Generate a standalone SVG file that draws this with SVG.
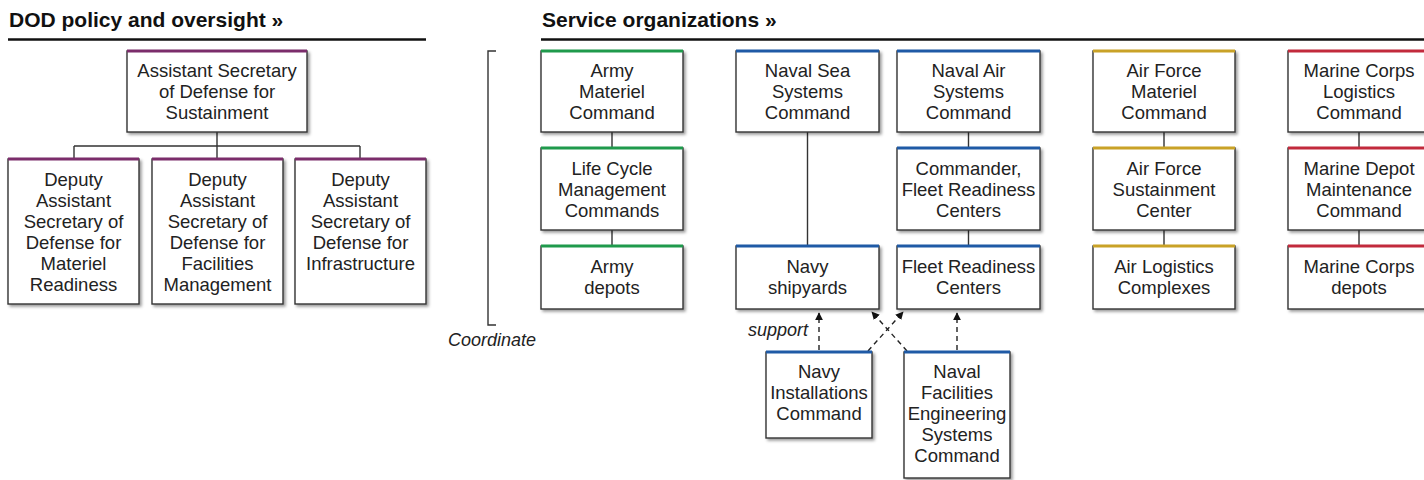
<svg xmlns="http://www.w3.org/2000/svg" width="1424" height="480" viewBox="0 0 1424 480">
  <style>
    .hdr { font-family: "Liberation Sans", Arial, sans-serif; font-weight: bold; font-size: 21px; fill: #111; }
    .rule { stroke: #111; stroke-width: 2.5; fill: none; }
    .box { fill: #fff; stroke: #333; stroke-width: 1.4; filter: url(#shadow); }
    .lbl { font-family: "Liberation Sans", Arial, sans-serif; font-size: 18.5px; fill: #222; text-anchor: middle; }
    .note { font-family: "Liberation Sans", Arial, sans-serif; font-size: 18px; font-style: italic; fill: #222; }
    .link { stroke: #333; stroke-width: 1.4; fill: none; }
    .dash { stroke: #222; stroke-width: 1.4; fill: none; stroke-dasharray: 5 4; marker-end: url(#tip); }
    .purple { stroke: #7b2d6b; stroke-width: 3; }
    .green { stroke: #1f9a4c; stroke-width: 3; }
    .blue { stroke: #1f5aa6; stroke-width: 3; }
    .gold { stroke: #c9a227; stroke-width: 3; }
    .red { stroke: #c22a3c; stroke-width: 3; }
  </style>
  <defs>
    <filter id="shadow" x="-10%" y="-10%" width="130%" height="130%">
      <feDropShadow dx="2" dy="2" stdDeviation="1.5" flood-color="#000" flood-opacity="0.4"/>
    </filter>
    <marker id="tip" viewBox="0 0 10 10" refX="9" refY="5" markerWidth="8" markerHeight="8" markerUnits="userSpaceOnUse" orient="auto">
      <path d="M0 0 L10 5 L0 10 Z" fill="#111"/>
    </marker>
  </defs>

  <rect width="1424" height="480" fill="#fff"/>

  <!-- section headings -->
  <g id="headings">
    <text class="hdr" x="9" y="27">DOD policy and oversight »</text>
    <line class="rule" x1="8" y1="39.5" x2="426" y2="39.5"/>
    <text class="hdr" x="542" y="27">Service organizations »</text>
    <line class="rule" x1="541" y1="39.5" x2="1424" y2="39.5"/>
  </g>

  <!-- connectors -->
  <g id="connectors">
    <path class="link" d="M217 132 V146 M74 146 H360 M74 146 V159 M217 146 V159 M360 146 V159"/>
    <path class="link" d="M612 132 V148 M612 230 V246"/>
    <path class="link" d="M807.5 132 V246"/>
    <path class="link" d="M968.5 132 V148 M968.5 230 V246"/>
    <path class="link" d="M1164 132 V148 M1164 230 V246"/>
    <path class="link" d="M1359 132 V148 M1359 230 V246"/>
    <path class="link" d="M496 51 H488 V325 H496"/>
    <path class="dash" d="M819 350 V313"/>
    <path class="dash" d="M868 351 L903 312"/>
    <path class="dash" d="M907 351 L872 312"/>
    <path class="dash" d="M957 350 V313"/>
  </g>

  <g id="coordinate-label">
    <text class="note" x="448" y="346">Coordinate</text>
  </g>
  <g id="support-label">
    <text class="note" x="748" y="336">support</text>
  </g>

  <!-- DOD policy and oversight -->
  <g id="asd-sustainment">
    <rect class="box" x="127" y="51" width="180" height="81"/>
    <line class="purple" x1="127" y1="51" x2="307" y2="51"/>
    <text class="lbl" x="217" y="77">Assistant Secretary</text>
    <text class="lbl" x="217" y="98">of Defense for</text>
    <text class="lbl" x="217" y="119">Sustainment</text>
  </g>
  <g id="dasd-materiel-readiness">
    <rect class="box" x="8" y="159" width="131" height="145"/>
    <line class="purple" x1="8" y1="159" x2="139" y2="159"/>
    <text class="lbl" x="73.5" y="186">Deputy</text>
    <text class="lbl" x="73.5" y="207">Assistant</text>
    <text class="lbl" x="73.5" y="228">Secretary of</text>
    <text class="lbl" x="73.5" y="249">Defense for</text>
    <text class="lbl" x="73.5" y="270">Materiel</text>
    <text class="lbl" x="73.5" y="291">Readiness</text>
  </g>
  <g id="dasd-facilities-management">
    <rect class="box" x="152" y="159" width="131" height="145"/>
    <line class="purple" x1="152" y1="159" x2="283" y2="159"/>
    <text class="lbl" x="217.5" y="186">Deputy</text>
    <text class="lbl" x="217.5" y="207">Assistant</text>
    <text class="lbl" x="217.5" y="228">Secretary of</text>
    <text class="lbl" x="217.5" y="249">Defense for</text>
    <text class="lbl" x="217.5" y="270">Facilities</text>
    <text class="lbl" x="217.5" y="291">Management</text>
  </g>
  <g id="dasd-infrastructure">
    <rect class="box" x="295" y="159" width="131" height="145"/>
    <line class="purple" x1="295" y1="159" x2="426" y2="159"/>
    <text class="lbl" x="360.5" y="186">Deputy</text>
    <text class="lbl" x="360.5" y="207">Assistant</text>
    <text class="lbl" x="360.5" y="228">Secretary of</text>
    <text class="lbl" x="360.5" y="249">Defense for</text>
    <text class="lbl" x="360.5" y="270">Infrastructure</text>
  </g>

  <!-- Army -->
  <g id="army-materiel-command">
    <rect class="box" x="541" y="51" width="142" height="81"/>
    <line class="green" x1="541" y1="51" x2="683" y2="51"/>
    <text class="lbl" x="612" y="77">Army</text>
    <text class="lbl" x="612" y="98">Materiel</text>
    <text class="lbl" x="612" y="119">Command</text>
  </g>
  <g id="life-cycle-management-commands">
    <rect class="box" x="541" y="148" width="142" height="82"/>
    <line class="green" x1="541" y1="148" x2="683" y2="148"/>
    <text class="lbl" x="612" y="175">Life Cycle</text>
    <text class="lbl" x="612" y="196">Management</text>
    <text class="lbl" x="612" y="217">Commands</text>
  </g>
  <g id="army-depots">
    <rect class="box" x="541" y="246" width="142" height="63"/>
    <line class="green" x1="541" y1="246" x2="683" y2="246"/>
    <text class="lbl" x="612" y="273">Army</text>
    <text class="lbl" x="612" y="294">depots</text>
  </g>

  <!-- Navy -->
  <g id="naval-sea-systems-command">
    <rect class="box" x="736" y="51" width="143" height="81"/>
    <line class="blue" x1="736" y1="51" x2="879" y2="51"/>
    <text class="lbl" x="807.5" y="77">Naval Sea</text>
    <text class="lbl" x="807.5" y="98">Systems</text>
    <text class="lbl" x="807.5" y="119">Command</text>
  </g>
  <g id="naval-air-systems-command">
    <rect class="box" x="897" y="51" width="143" height="81"/>
    <line class="blue" x1="897" y1="51" x2="1040" y2="51"/>
    <text class="lbl" x="968.5" y="77">Naval Air</text>
    <text class="lbl" x="968.5" y="98">Systems</text>
    <text class="lbl" x="968.5" y="119">Command</text>
  </g>
  <g id="commander-fleet-readiness-centers">
    <rect class="box" x="897" y="148" width="143" height="82"/>
    <line class="blue" x1="897" y1="148" x2="1040" y2="148"/>
    <text class="lbl" x="968.5" y="175">Commander,</text>
    <text class="lbl" x="968.5" y="196">Fleet Readiness</text>
    <text class="lbl" x="968.5" y="217">Centers</text>
  </g>
  <g id="navy-shipyards">
    <rect class="box" x="736" y="246" width="143" height="63"/>
    <line class="blue" x1="736" y1="246" x2="879" y2="246"/>
    <text class="lbl" x="807.5" y="273">Navy</text>
    <text class="lbl" x="807.5" y="294">shipyards</text>
  </g>
  <g id="fleet-readiness-centers">
    <rect class="box" x="897" y="246" width="143" height="63"/>
    <line class="blue" x1="897" y1="246" x2="1040" y2="246"/>
    <text class="lbl" x="968.5" y="273">Fleet Readiness</text>
    <text class="lbl" x="968.5" y="294">Centers</text>
  </g>
  <g id="navy-installations-command">
    <rect class="box" x="766" y="352" width="106" height="86"/>
    <line class="blue" x1="766" y1="352" x2="872" y2="352"/>
    <text class="lbl" x="819" y="378">Navy</text>
    <text class="lbl" x="819" y="399">Installations</text>
    <text class="lbl" x="819" y="420">Command</text>
  </g>
  <g id="naval-facilities-engineering-systems-command">
    <rect class="box" x="904" y="352" width="106" height="126"/>
    <line class="blue" x1="904" y1="352" x2="1010" y2="352"/>
    <text class="lbl" x="957" y="378">Naval</text>
    <text class="lbl" x="957" y="399">Facilities</text>
    <text class="lbl" x="957" y="420">Engineering</text>
    <text class="lbl" x="957" y="441">Systems</text>
    <text class="lbl" x="957" y="462">Command</text>
  </g>

  <!-- Air Force -->
  <g id="air-force-materiel-command">
    <rect class="box" x="1093" y="51" width="142" height="81"/>
    <line class="gold" x1="1093" y1="51" x2="1235" y2="51"/>
    <text class="lbl" x="1164" y="77">Air Force</text>
    <text class="lbl" x="1164" y="98">Materiel</text>
    <text class="lbl" x="1164" y="119">Command</text>
  </g>
  <g id="air-force-sustainment-center">
    <rect class="box" x="1093" y="148" width="142" height="82"/>
    <line class="gold" x1="1093" y1="148" x2="1235" y2="148"/>
    <text class="lbl" x="1164" y="175">Air Force</text>
    <text class="lbl" x="1164" y="196">Sustainment</text>
    <text class="lbl" x="1164" y="217">Center</text>
  </g>
  <g id="air-logistics-complexes">
    <rect class="box" x="1093" y="246" width="142" height="63"/>
    <line class="gold" x1="1093" y1="246" x2="1235" y2="246"/>
    <text class="lbl" x="1164" y="273">Air Logistics</text>
    <text class="lbl" x="1164" y="294">Complexes</text>
  </g>

  <!-- Marine Corps -->
  <g id="marine-corps-logistics-command">
    <rect class="box" x="1288" y="51" width="142" height="81"/>
    <line class="red" x1="1288" y1="51" x2="1430" y2="51"/>
    <text class="lbl" x="1359" y="77">Marine Corps</text>
    <text class="lbl" x="1359" y="98">Logistics</text>
    <text class="lbl" x="1359" y="119">Command</text>
  </g>
  <g id="marine-depot-maintenance-command">
    <rect class="box" x="1288" y="148" width="142" height="82"/>
    <line class="red" x1="1288" y1="148" x2="1430" y2="148"/>
    <text class="lbl" x="1359" y="175">Marine Depot</text>
    <text class="lbl" x="1359" y="196">Maintenance</text>
    <text class="lbl" x="1359" y="217">Command</text>
  </g>
  <g id="marine-corps-depots">
    <rect class="box" x="1288" y="246" width="142" height="63"/>
    <line class="red" x1="1288" y1="246" x2="1430" y2="246"/>
    <text class="lbl" x="1359" y="273">Marine Corps</text>
    <text class="lbl" x="1359" y="294">depots</text>
  </g>
</svg>
